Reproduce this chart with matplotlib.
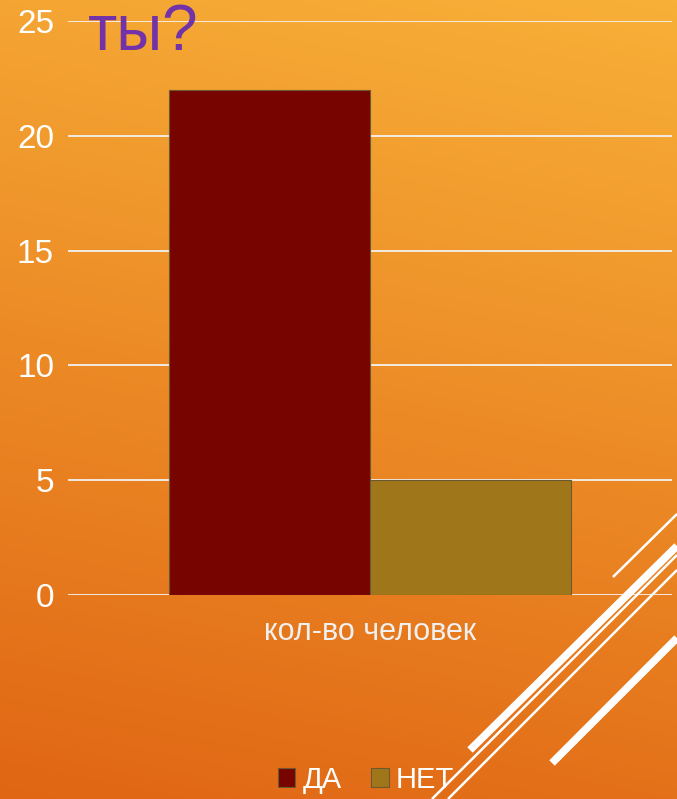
import numpy as np
import matplotlib
matplotlib.use("Agg")
import matplotlib.pyplot as plt
from matplotlib.lines import Line2D

# data
categories = ["кол-во человек"]
series_names = ["ДА", "НЕТ"]
series_values = [[22], [5]]
series_colors = ["#780400", "#A0761A"]
yticks = [0, 5, 10, 15, 20, 25]
title = "ты?"

W, H = 677, 799
fig = plt.figure(figsize=(W / 100, H / 100), dpi=100)

# orange gradient background
bg = fig.add_axes([0, 0, 1, 1], zorder=-10)
yy, xx = np.mgrid[0:1:200j, 0:1:200j]
t = np.clip(0.85 * yy + 0.15 * (1 - xx), 0, 1)
top = np.array([248, 176, 56]) / 255
bot = np.array([224, 102, 20]) / 255
img = top[None, None, :] * (1 - t[..., None]) + bot[None, None, :] * t[..., None]
bg.imshow(img, aspect="auto", extent=[0, 1, 1, 0])
bg.set_axis_off()

# decorative white diagonal lines (figure pixel coords)
deco = [
    ((470, 750), (677, 546), 5.5),
    ((432, 799), (677, 555), 1.8),
    ((448, 799), (677, 570), 1.8),
    ((552, 763), (677, 638), 5.5),
    ((613, 577), (677, 514), 1.8),
]
for (x0, y0), (x1, y1), lw in deco:
    fig.add_artist(Line2D([x0 / W, x1 / W], [1 - y0 / H, 1 - y1 / H],
                          color="white", lw=lw, solid_capstyle="butt", zorder=5))

ax = fig.add_axes([68 / W, 1 - 595 / H, 604 / W, 574 / H])
ax.patch.set_alpha(0)

n = len(series_names)
bw = (2 / 3) / n
x = np.arange(len(categories))
bars = []
for i, (name, vals, col) in enumerate(zip(series_names, series_values, series_colors)):
    b = ax.bar(x - 1 / 3 + bw * (i + 0.5), vals, width=bw, color=col,
               edgecolor="#6b5a30", linewidth=0.8, label=name, zorder=3)
    bars.append(b)

ax.set_xlim(-0.5, len(categories) - 0.5)
ax.set_ylim(0, 25)
ax.set_yticks(yticks)
ax.yaxis.grid(True, color="#F2F2F2", linewidth=1.3, zorder=0)
ax.set_axisbelow(True)
for s in ax.spines.values():
    s.set_visible(False)
ax.tick_params(axis="y", length=0, colors="white", labelsize=24, pad=10)
for lab in ax.get_yticklabels():
    lab.set_fontfamily("Liberation Sans")
ax.set_xticks(x)
ax.set_xticklabels(categories, fontsize=22, color="#F0F0F0", family="Liberation Sans")
ax.tick_params(axis="x", length=0, pad=16)

fig.text(88 / W, 1 - 50 / H, title, fontsize=46, color="#7232A8",
         family="Liberation Sans", va="baseline", ha="left")

fig.legend(handles=[b[0] for b in bars], labels=series_names, loc="center",
           bbox_to_anchor=(366 / W, 1 - 780 / H), ncol=2, frameon=False,
           handlelength=0.6, handleheight=0.6, handletextpad=0.25,
           columnspacing=1.0, labelcolor="white",
           prop={"family": "Liberation Sans", "size": 21})

fig.savefig("out.png", dpi=100)
